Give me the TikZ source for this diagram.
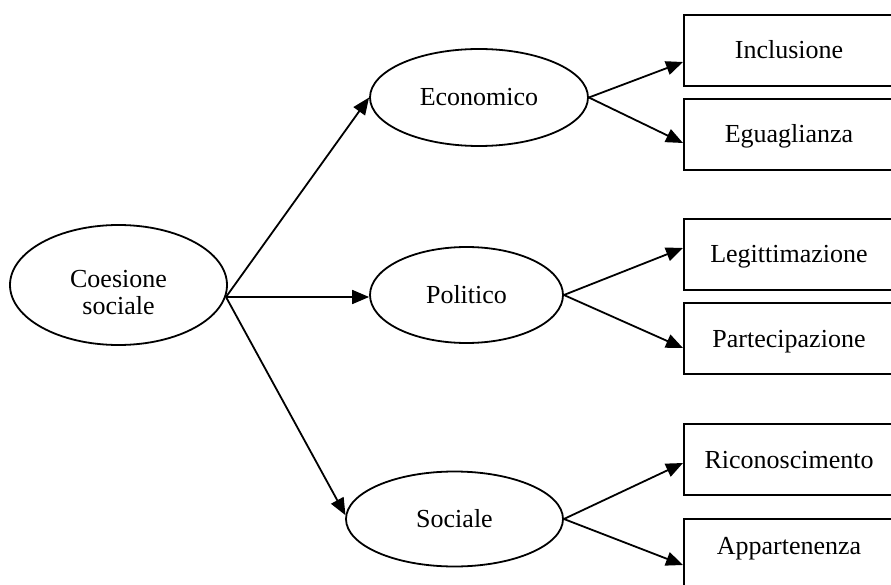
\documentclass[tikz,border=0pt]{standalone}
\usepackage{fontspec}
\setmainfont{Liberation Serif}
\usetikzlibrary{arrows.meta,shapes.geometric,calc}

\tikzset{
  every node/.style={font=\fontsize{26}{27}\selectfont},
  oval/.style={draw, ellipse, line width=1.8pt, inner sep=0pt},
  labelbox/.style={draw, rectangle, line width=2pt, anchor=north west,
    minimum width=210pt, minimum height=71pt, inner sep=0pt,
    text height=20pt, text depth=3pt},
  link/.style={line width=1.8pt, -{Triangle[length=17pt,width=14pt]}},
}

\begin{document}
\begin{tikzpicture}[x=1pt, y=-1pt]
  \useasboundingbox (0,0) rectangle (891,585);
  \fill[white] (0,0) rectangle (891,585);
  \clip (0,0) rectangle (891,585);

  % root concept
  \node[oval, minimum width=217pt, minimum height=120pt] (coes) at (118.5,285) {};
  \node[align=center] (coestext) at (118.5,293) {Coesione\\sociale};
  \coordinate (hub) at (226,297);

  % three dimensions
  \node[oval, minimum width=218pt, minimum height=97pt] (eco) at (479,97.5) {Economico};
  \node[oval, minimum width=193pt, minimum height=96pt] (pol) at (466.5,295) {Politico};
  \node[oval, minimum width=217pt, minimum height=95pt] (soc) at (454.5,519) {Sociale};

  % indicators
  \node[labelbox] (inc) at (683,14)  {Inclusione};
  \node[labelbox] (egu) at (683,98)  {Eguaglianza};
  \node[labelbox] (leg) at (683,218) {Legittimazione};
  \node[labelbox] (par) at (683,302) {Partecipazione};
  \node[labelbox] (ric) at (683,423) {Riconoscimento};
  \node[labelbox, text depth=20pt] (app) at (683,518) {Appartenenza};

  % root to dimensions
  \draw[link] (hub) -- (eco.west);
  \draw[link] (hub) -- (hub -| pol.west);
  \draw[link] (hub) -- (soc.178);

  % dimensions to indicators
  \draw[link] (eco.east) -- ($(inc.north west)+(0,48)$);
  \draw[link] (eco.east) -- ($(egu.north west)+(0,45)$);
  \draw[link] (pol.east) -- ($(leg.north west)+(0,30)$);
  \draw[link] (pol.east) -- ($(par.north west)+(0,46)$);
  \draw[link] (soc.east) -- ($(ric.north west)+(0,40)$);
  \draw[link] (soc.east) -- ($(app.north west)+(0,47)$);
\end{tikzpicture}
\end{document}
